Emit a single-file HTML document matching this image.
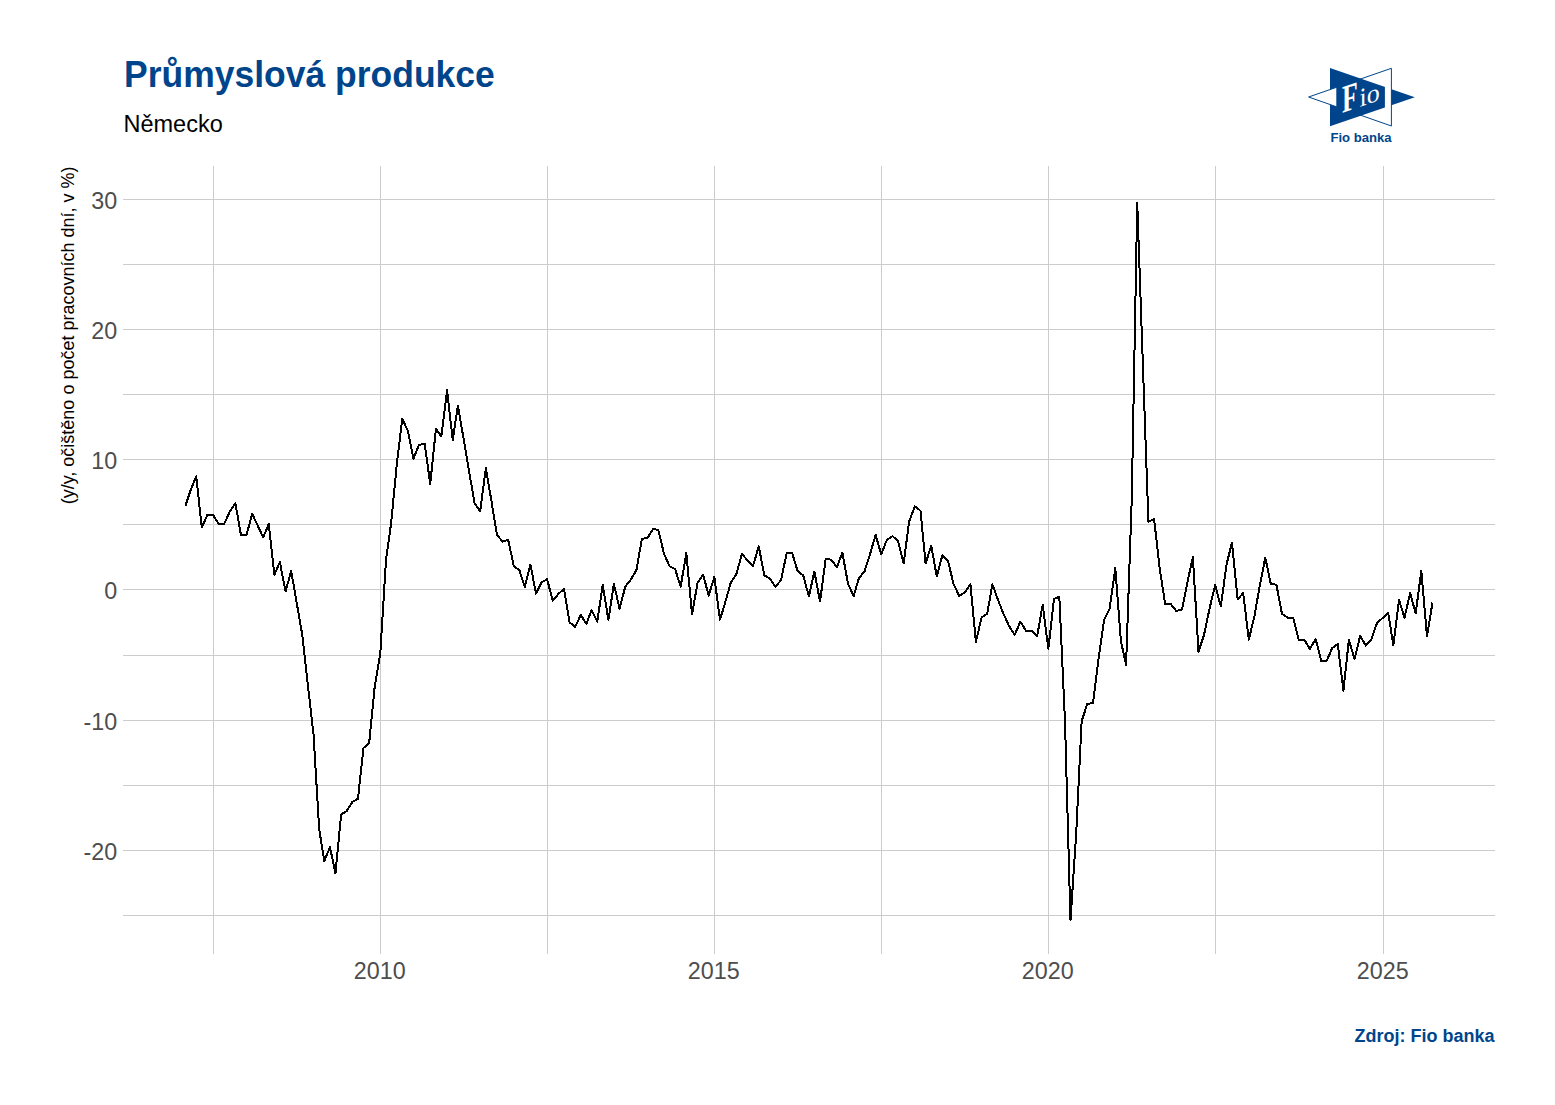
<!DOCTYPE html>
<html><head><meta charset="utf-8">
<style>
html,body{margin:0;padding:0;background:#fff;}
body{width:1555px;height:1105px;overflow:hidden;position:relative;font-family:"Liberation Sans",sans-serif;}
svg{position:absolute;left:0;top:0;}
</style></head>
<body>
<svg width="1555" height="1105" viewBox="0 0 1555 1105" font-family="Liberation Sans, sans-serif">
<rect width="1555" height="1105" fill="#fff"/>
<text transform="translate(124,86.8) scale(1,1.045)" font-size="35.5" font-weight="bold" fill="#00458b">Průmyslová produkce</text>
<text x="123.5" y="131.8" font-size="23.5" fill="#000">Německo</text>
<g fill="#cccccc" shape-rendering="crispEdges">
<rect x="123" y="199" width="1372" height="1"/>
<rect x="123" y="264" width="1372" height="1"/>
<rect x="123" y="329" width="1372" height="1"/>
<rect x="123" y="394" width="1372" height="1"/>
<rect x="123" y="459" width="1372" height="1"/>
<rect x="123" y="524" width="1372" height="1"/>
<rect x="123" y="589" width="1372" height="1"/>
<rect x="123" y="655" width="1372" height="1"/>
<rect x="123" y="720" width="1372" height="1"/>
<rect x="123" y="785" width="1372" height="1"/>
<rect x="123" y="850" width="1372" height="1"/>
<rect x="123" y="915" width="1372" height="1"/>
<rect x="213" y="166" width="1" height="788"/>
<rect x="380" y="166" width="1" height="788"/>
<rect x="547" y="166" width="1" height="788"/>
<rect x="714" y="166" width="1" height="788"/>
<rect x="881" y="166" width="1" height="788"/>
<rect x="1048" y="166" width="1" height="788"/>
<rect x="1215" y="166" width="1" height="788"/>
<rect x="1383" y="166" width="1" height="788"/>
</g>
<g font-size="23.3" fill="#4d4d4d">
<text x="117.2" y="208.7" text-anchor="end">30</text>
<text x="117.2" y="338.7" text-anchor="end">20</text>
<text x="117.2" y="468.7" text-anchor="end">10</text>
<text x="117.2" y="598.7" text-anchor="end">0</text>
<text x="117.2" y="729.7" text-anchor="end">-10</text>
<text x="117.2" y="859.7" text-anchor="end">-20</text>
<text x="379.7" y="979" text-anchor="middle">2010</text>
<text x="713.7" y="979" text-anchor="middle">2015</text>
<text x="1047.7" y="979" text-anchor="middle">2020</text>
<text x="1382.7" y="979" text-anchor="middle">2025</text>
</g>
<text transform="translate(74.4,166.5) rotate(-90)" font-size="18" fill="#000" text-anchor="end">(y/y, očištěno o počet pracovních dní, v %)</text>
<polyline points="185.47,505.82 190.60,490.20 196.27,476.27 201.75,527.50 207.42,514.80 212.91,514.80 218.58,523.79 224.25,523.79 229.74,511.68 235.41,503.35 240.90,534.73 246.57,534.73 252.24,513.89 257.55,525.35 263.22,537.39 268.70,524.05 274.38,574.76 279.86,562.07 285.53,591.43 291.21,571.05 296.69,602.82 302.36,635.37 307.85,684.85 313.52,734.32 319.19,829.37 324.31,861.07 329.99,847.21 335.47,873.31 341.14,814.39 346.63,811.14 352.30,802.03 357.97,798.77 363.46,747.99 369.13,743.44 374.62,687.45 380.29,653.60 385.96,560.37 391.08,523.40 396.75,464.81 402.24,418.72 407.91,430.96 413.40,458.88 419.07,444.76 424.74,443.98 430.23,484.01 435.90,429.00 441.39,436.36 447.06,390.33 452.73,440.14 457.85,405.57 463.52,438.25 469.01,470.93 474.68,503.61 480.17,511.09 485.84,468.06 491.51,501.39 497.00,534.86 502.67,541.69 508.16,539.80 513.83,566.10 519.50,570.53 524.80,587.13 530.47,564.54 535.96,593.64 541.63,582.38 547.12,579.25 552.79,600.80 558.46,593.84 563.95,589.02 569.62,622.35 575.11,626.84 580.78,615.06 586.45,623.98 591.57,609.98 597.24,621.76 602.73,584.98 608.40,619.94 613.89,583.94 619.56,608.74 625.23,586.81 630.72,579.64 636.39,570.27 641.88,538.89 647.55,537.72 653.22,528.87 658.34,530.04 664.01,553.73 669.50,566.23 675.17,569.23 680.66,586.61 686.33,552.82 692.00,614.47 697.49,583.16 703.16,574.70 708.65,595.59 714.32,577.04 719.99,619.68 725.11,602.82 730.78,582.51 736.27,574.31 741.94,554.00 747.43,560.24 753.10,565.78 758.77,546.31 764.26,575.22 769.93,578.86 775.41,586.87 781.08,580.03 786.76,552.82 792.06,552.82 797.73,571.31 803.22,575.35 808.89,596.51 814.38,571.57 820.05,601.58 825.72,558.55 831.21,559.72 836.88,567.21 842.37,552.82 848.04,583.94 853.71,596.11 858.83,578.34 864.50,571.44 869.99,554.26 875.66,534.86 881.15,554.32 886.82,539.93 892.49,536.16 897.97,540.84 903.65,563.43 909.13,521.44 914.80,506.34 920.48,510.77 925.60,563.43 931.27,545.66 936.76,576.45 942.43,555.17 947.91,560.64 953.58,584.07 959.26,595.98 964.74,592.53 970.41,584.20 975.90,641.81 981.57,617.66 987.24,613.63 992.37,584.33 998.04,599.96 1003.52,613.89 1009.19,626.26 1014.68,634.91 1020.35,621.70 1026.02,630.68 1031.51,630.68 1037.18,636.09 1042.67,604.77 1048.34,648.85 1054.01,599.04 1059.32,596.70 1064.99,721.30 1070.48,920.18 1076.15,834.58 1081.63,721.30 1087.30,703.86 1092.98,703.07 1098.46,659.33 1104.13,619.62 1109.62,608.68 1115.29,568.06 1120.96,641.36 1126.09,664.73 1131.76,498.66 1137.24,203.11 1142.91,365.86 1148.40,521.77 1154.07,518.84 1159.74,568.71 1165.23,604.25 1170.90,604.25 1176.39,611.09 1182.06,609.33 1187.73,580.69 1192.85,557.25 1198.52,651.71 1204.01,634.85 1209.68,608.03 1215.17,585.11 1220.84,606.40 1226.51,564.67 1232.00,542.54 1237.67,599.37 1243.16,593.05 1248.83,639.60 1254.50,615.84 1259.62,586.54 1265.29,557.64 1270.78,583.68 1276.45,584.85 1281.94,613.89 1287.61,617.66 1293.28,618.05 1298.77,639.80 1304.44,639.80 1309.93,648.98 1315.60,638.89 1321.27,661.15 1326.57,661.15 1332.24,648.00 1337.73,643.96 1343.40,690.64 1348.89,639.80 1354.56,659.13 1360.23,635.63 1365.72,645.59 1371.39,639.67 1376.88,623.26 1382.55,618.05 1388.22,612.85 1393.34,645.20 1399.01,599.83 1404.50,617.60 1410.17,593.05 1415.66,613.43 1421.33,570.92 1427.00,636.61 1432.49,602.56" fill="none" stroke="#000" stroke-width="2" stroke-linejoin="round" shape-rendering="crispEdges" id="dl"/>
<text x="1494.5" y="1041.8" font-size="18" font-weight="bold" fill="#00458b" text-anchor="end">Zdroj: Fio banka</text>
<g id="logo">
<polygon points="1330,68 1330,126.2 1414.8,97.2" fill="#00458b"/>
<polygon points="1391.4,68.3 1391.4,126 1308.6,97" fill="#fff" stroke="#00458b" stroke-width="1"/>
<clipPath id="cb"><polygon points="1330,68 1330,126.2 1414.8,97.2"/></clipPath>
<clipPath id="cw"><polygon points="1391.4,67.3 1391.4,127 1307.6,97"/></clipPath>
<g clip-path="url(#cb)"><g clip-path="url(#cw)"><rect x="1336.3" y="60" width="48.6" height="75" fill="#00458b"/></g></g>
<g transform="translate(1342,113) skewY(-19)" fill="#fff" font-family="Liberation Serif, serif">
<text x="0" y="0" font-size="39" font-weight="bold" transform="scale(0.66,1)">F</text>
<text x="17.6" y="0" font-size="26">io</text>
</g>
<text x="1361" y="141.7" font-size="13.1" font-weight="bold" fill="#00458b" text-anchor="middle">Fio banka</text>
</g>
</svg>
</body></html>
